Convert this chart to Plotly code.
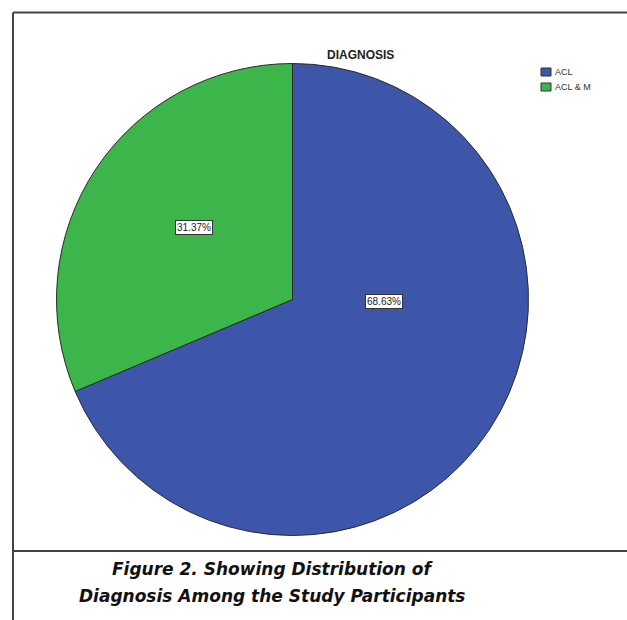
import plotly.graph_objects as go

W, H = 627, 620

categories = ["ACL", "ACL & M"]
percentages = [68.63, 31.37]
colors = ["#3E56A9", "#3CB54A"]
title_text = "DIAGNOSIS"
caption_lines = ["Figure 2. Showing Distribution of", "Diagnosis Among the Study Participants"]

def px(x):
    return x / W

def py(y):
    return 1 - y / H

# pie geometry (pixels)
cx, cy, r = 292.5, 299.5, 236

fig = go.Figure()
fig.add_trace(go.Pie(
    labels=categories,
    values=percentages,
    sort=False,
    direction="clockwise",
    rotation=0,
    marker=dict(colors=colors, line=dict(color="#2a2a2a", width=1)),
    textinfo="none",
    hoverinfo="label+percent",
    showlegend=False,
    domain=dict(x=[px(cx - r), px(cx + r)], y=[py(cy + r), py(cy - r)]),
))

# percentage labels with white boxes
label_pos = [(384, 301), (194, 228)]
annotations = []
shapes = []
for (lx, ly), v in zip(label_pos, percentages):
    annotations.append(dict(
        x=px(lx), y=py(ly), xref="paper", yref="paper", xanchor="center", yanchor="middle",
        text=f"{v:.2f}%", showarrow=False,
        font=dict(family="Arial, Liberation Sans", size=10, color="#222"),
        bgcolor="white", bordercolor="#333", borderwidth=1, borderpad=1,
    ))

annotations.append(dict(
    x=px(360), y=py(55), xref="paper", yref="paper", xanchor="center", yanchor="middle",
    text="<b>" + title_text + "</b>", showarrow=False,
    font=dict(family="Arial, Liberation Sans", size=12, color="#222"),
))

# legend (built from categories / colors)
for i, (name, col) in enumerate(zip(categories, colors)):
    top = 68 + 15 * i
    shapes.append(dict(type="rect", xref="paper", yref="paper",
                       x0=px(541), x1=px(551), y0=py(top + 8), y1=py(top),
                       fillcolor=col, line=dict(color="#333", width=1)))
    annotations.append(dict(
        x=px(553), y=py(top + 4), xref="paper", yref="paper", xanchor="left", yanchor="middle",
        text=name, showarrow=False,
        font=dict(family="Arial, Liberation Sans", size=9, color="#333"),
    ))

for i, (t, yc) in enumerate(zip(caption_lines, [569, 596])):
    annotations.append(dict(
        x=px(272), y=py(yc), xref="paper", yref="paper", xanchor="center", yanchor="middle",
        text=f"<b><i>{t}</i></b>", showarrow=False,
        font=dict(family="DejaVu Sans", size=17, color="#111"),
    ))

shapes += [
    dict(type="line", xref="paper", yref="paper", x0=px(13), x1=1.01, y0=py(12.5), y1=py(12.5),
         line=dict(color="#444", width=2)),
    dict(type="line", xref="paper", yref="paper", x0=px(13), x1=px(13), y0=py(12.5), y1=-0.01,
         line=dict(color="#444", width=2)),
    dict(type="line", xref="paper", yref="paper", x0=px(13), x1=1.01, y0=py(551), y1=py(551),
         line=dict(color="#444", width=2)),
]

fig.update_layout(
    width=W, height=H,
    margin=dict(l=0, r=0, t=0, b=0),
    paper_bgcolor="white", plot_bgcolor="white",
    showlegend=False,
    annotations=annotations,
    shapes=shapes,
)

fig.write_html("out.html")
